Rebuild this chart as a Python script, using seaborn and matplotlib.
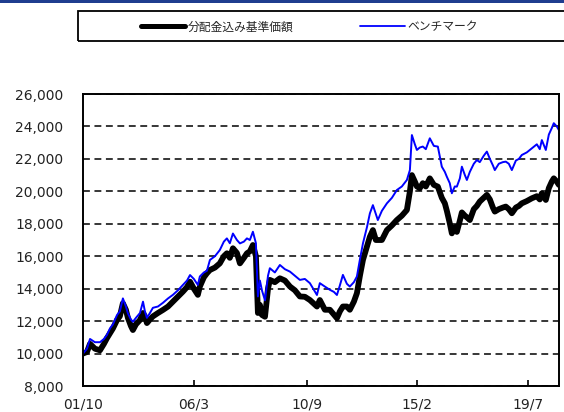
import pandas as pd
import seaborn as sns
import matplotlib.pyplot as plt
from matplotlib.patches import Rectangle
from matplotlib.lines import Line2D

# 読み取った値（日付、分配金込み基準価額、ベンチマーク）
dates = [
    '2001-10-01', '2001-11-28', '2002-01-11', '2002-03-23', '2002-06-05', '2002-08-02',
    '2002-09-15', '2002-10-29', '2002-12-11', '2003-02-09', '2003-03-22', '2003-05-05',
    '2003-06-18', '2003-07-17', '2003-08-30', '2003-09-28', '2003-11-11', '2004-01-09',
    '2004-02-22', '2004-03-21', '2004-04-19', '2004-06-02', '2004-07-15', '2004-09-27',
    '2004-12-09', '2005-02-21', '2005-05-03', '2005-07-15', '2005-09-26', '2005-11-24',
    '2006-01-07', '2006-03-04', '2006-05-01', '2006-05-30', '2006-07-28', '2006-09-10',
    '2006-10-24', '2007-01-05', '2007-03-17', '2007-05-15', '2007-06-28', '2007-08-10',
    '2007-09-24', '2007-11-21', '2008-01-04', '2008-03-02', '2008-04-15', '2008-05-28',
    '2008-07-11', '2008-08-24', '2008-09-22', '2008-10-21', '2008-11-20', '2009-01-03',
    '2009-02-16', '2009-03-15', '2009-05-27', '2009-08-08', '2009-10-20', '2010-01-02',
    '2010-03-14', '2010-05-26', '2010-08-07', '2010-10-19', '2011-01-30', '2011-03-13',
    '2011-05-25', '2011-08-06', '2011-10-04', '2011-11-17', '2011-12-30', '2012-02-12',
    '2012-04-10', '2012-05-23', '2012-07-21', '2012-09-03', '2012-10-17', '2012-11-30',
    '2013-01-28', '2013-03-11', '2013-04-24', '2013-06-06', '2013-07-05', '2013-09-02',
    '2013-11-14', '2014-01-26', '2014-04-08', '2014-06-20', '2014-09-01', '2014-10-15',
    '2014-11-13', '2014-12-26', '2015-01-25', '2015-03-08', '2015-04-21', '2015-06-04',
    '2015-08-01', '2015-09-29', '2015-11-26', '2016-01-23', '2016-03-07', '2016-04-05',
    '2016-05-18', '2016-06-17', '2016-07-30', '2016-08-29', '2016-10-12', '2016-11-10',
    '2016-12-24', '2017-01-22', '2017-03-06', '2017-05-03', '2017-06-16', '2017-07-29',
    '2017-09-26', '2017-11-09', '2017-12-23', '2018-02-05', '2018-03-05', '2018-05-02',
    '2018-06-30', '2018-08-12', '2018-09-25', '2018-11-08', '2019-01-06', '2019-02-19',
    '2019-04-02', '2019-06-14', '2019-08-26', '2019-11-07', '2019-12-20', '2020-01-19',
    '2020-03-17', '2020-04-30', '2020-06-12', '2020-07-11', '2020-08-24', '2020-09-23',
]

fund = [
    10000, 10100, 10600, 10300, 10200, 10600,
    10950, 11250, 11550, 12070, 12300, 13100,
    12700, 12200, 11700, 11450, 11800, 12070,
    12500, 12300, 11880, 12100, 12290, 12500,
    12690, 12900, 13200, 13500, 13820, 14100,
    14430, 14000, 13620, 14130, 14700, 14950,
    15150, 15300, 15560, 16000, 16180, 15900,
    16490, 16200, 15560, 15900, 16180, 16300,
    16690, 16000, 12500, 13000, 12380, 12270,
    14000, 14540, 14400, 14640, 14500, 14130,
    13900, 13520, 13500, 13300, 12900, 13300,
    12700, 12700, 12400, 12180, 12600, 12900,
    12900, 12700, 13200, 13720, 14800, 15770,
    16600, 17200, 17610, 17000, 17000, 17000,
    17610, 17900, 18230, 18500, 18850, 20000,
    21000, 20600, 20300, 20190, 20500, 20300,
    20800, 20400, 20290, 19600, 19260, 18800,
    18030, 17410, 17800, 17500, 18200, 18700,
    18500, 18400, 18230, 18900, 19100, 19370,
    19600, 19780, 19500, 19000, 18750, 18900,
    19000, 19060, 18900, 18650, 19000, 19100,
    19260, 19400, 19570, 19700, 19500, 19880,
    19470, 20200, 20600, 20800, 20600, 20400,
]

bench = [
    10000, 10300, 10900, 10700, 10700, 10900,
    11150, 11550, 11800, 12380, 12600, 13400,
    12900, 12480, 12100, 11960, 12200, 12500,
    13200, 12600, 12200, 12500, 12820, 12900,
    13130, 13400, 13620, 13900, 14230, 14500,
    14840, 14600, 14230, 14750, 15000, 15100,
    15770, 16000, 16380, 16900, 17100, 16800,
    17400, 17000, 16790, 16900, 17100, 17000,
    17510, 16800, 13520, 14500, 13890, 13280,
    14800, 15260, 15000, 15460, 15200, 15050,
    14800, 14540, 14600, 14340, 13610, 14340,
    14130, 13930, 13800, 13610, 14200, 14850,
    14300, 14130, 14400, 14750, 15800, 16790,
    17800, 18640, 19150, 18600, 18230, 18800,
    19260, 19600, 20080, 20300, 20700, 21310,
    23470, 22900, 22550, 22700, 22760, 22600,
    23270, 22800, 22760, 21520, 21200, 20900,
    20500, 19880, 20300, 20290, 20800, 21520,
    21000, 20700, 21200, 21700, 21930, 21800,
    22200, 22450, 22000, 21600, 21310, 21700,
    21800, 21830, 21700, 21310, 21900, 22000,
    22240, 22400, 22650, 22900, 22600, 23160,
    22550, 23500, 23900, 24200, 24000, 23780,
]

labels = ['分配金込み基準価額', 'ベンチマーク']
tick_dates = ['2001-10-01', '2006-03-01', '2010-09-01', '2015-02-01', '2019-07-01']
tick_labels = ['01/10', '06/3', '10/9', '15/2', '19/7']
y_ticks = [8000, 10000, 12000, 14000, 16000, 18000, 20000, 22000, 24000, 26000]

df = pd.DataFrame({'date': pd.to_datetime(dates), 'fund': fund, 'bench': bench})

sns.set_theme(style='white')
plt.rcParams['font.family'] = ['DejaVu Sans', 'Noto Sans CJK JP']

fig = plt.figure(figsize=(5.64, 4.12), dpi=100)
ax = fig.add_axes([83 / 564, 26 / 412, 476 / 564, 292 / 412])

sns.lineplot(data=df, x='date', y='fund', color='black', linewidth=4.2,
             estimator=None, ax=ax)
sns.lineplot(data=df, x='date', y='bench', color='#0000ff', linewidth=1.4,
             estimator=None, ax=ax)

ax.set_xlim(pd.Timestamp('2001-10-01'), pd.Timestamp('2020-09-25'))
ax.set_ylim(y_ticks[0], y_ticks[-1])
ax.set_yticks(y_ticks)
ax.set_yticklabels([f'{v:,}' for v in y_ticks])
ax.set_xticks(pd.to_datetime(tick_dates))
ax.set_xticklabels(tick_labels)
ax.set_xlabel('')
ax.set_ylabel('')

# 点線の目盛線
ax.yaxis.grid(True, color='black', linestyle=(0, (4.5, 3)), linewidth=1.1)
ax.set_axisbelow(True)
for s in ax.spines.values():
    s.set_color('black')
    s.set_linewidth(1.4)

ax.tick_params(axis='x', direction='in', length=4, width=1.2, pad=8,
               labelsize=10, labelcolor='#222222', color='black', bottom=True)
ax.tick_params(axis='y', length=0, pad=14, labelsize=10, labelcolor='#222222')

# 凡例
handles = [Line2D([], [], color='black', linewidth=3.6),
           Line2D([], [], color='#0000ff', linewidth=1.3)]
fig.legend(handles, labels, loc='center', bbox_to_anchor=(309 / 564, 1 - 27 / 412),
           ncol=2, frameon=False, fontsize=8.5, handlelength=3.8,
           handletextpad=0.2, columnspacing=5.6)
fig.patches.append(Rectangle((78 / 564, 1 - 41 / 412), 0.95, 30 / 412,
                             transform=fig.transFigure, fill=False,
                             edgecolor='black', linewidth=1.3))
# 上部の帯
fig.patches.append(Rectangle((0, 1 - 3 / 412), 1, 3 / 412, transform=fig.transFigure,
                             facecolor='#1f3d8f', edgecolor='none'))

fig.savefig('out.png', dpi=100)
